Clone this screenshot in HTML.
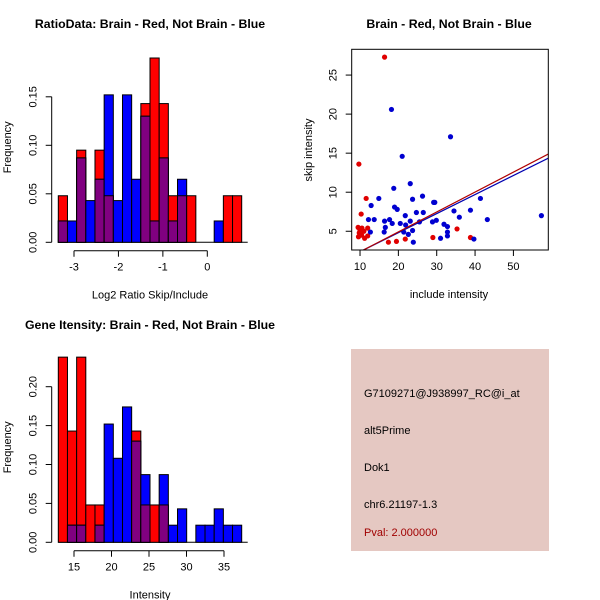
<!DOCTYPE html>
<html><head><meta charset="utf-8"><style>
body{margin:0;background:#fff;}
svg{display:block;font-family:"Liberation Sans",sans-serif;}
</style></head><body>
<svg id="root" width="600" height="600" viewBox="0 0 600 600">
<rect width="600" height="600" fill="#fff"/>
<g id="p1"></g>
<g id="p2"></g>
<g id="p3"></g>
<g id="p4">
<rect x="351" y="349" width="198" height="202" fill="#e5c8c2"/>
<text x="364" y="397" font-size="11" fill="#000">G7109271@J938997_RC@i_at</text>
<text x="364" y="434" font-size="11" fill="#000">alt5Prime</text>
<text x="364" y="471" font-size="11" fill="#000">Dok1</text>
<text x="364" y="508" font-size="11" fill="#000">chr6.21197-1.3</text>
<text x="364" y="536" font-size="11" fill="#a00000">Pval: 2.000000</text>
</g>
</svg>
<script>
const NS='http://www.w3.org/2000/svg';
// ---- data ----
const ratioRed=[0.048,0,0.095,0,0.095,0.048,0,0,0,0.143,0.190,0.143,0.048,0.048,0.048,0,0,0,0.048,0.048];
const ratioBlue=[0.022,0.022,0.087,0.043,0.065,0.152,0.043,0.152,0.065,0.130,0.022,0.087,0.022,0.065,0,0,0,0.022,0,0];
const ratioXTicks=[-3,-2,-1,0];
const ratioYTicks=[0,0.05,0.10,0.15];
const geneRed=[0.238,0.143,0.238,0.048,0.048,0,0,0,0.143,0.048,0.048,0.048,0,0,0,0,0,0,0,0];
const geneBlue=[0,0.022,0.022,0,0.022,0.152,0.108,0.174,0.130,0.087,0,0.087,0.022,0.043,0,0.022,0.022,0.043,0.022,0.022];
const geneXTicks=[15,20,25,30,35];
const geneYTicks=[0,0.05,0.10,0.15,0.20];
const redX=[16.4,9.7,10.3,11.6,9.5,10,10.5,11,12,9.6,10.4,11.2,12,9.8,17.4,19.5,21.8,29,35.3,38.8];
const redY=[27.3,13.6,7.2,9.2,5.5,5.1,5.4,5.0,5.4,4.3,4.5,4.1,4.4,4.8,3.6,3.7,4.0,4.2,5.3,4.2];
const blueX=[18.2,33.6,21.0,23.1,18.8,14.9,12.9,19.0,19.7,23.7,26.3,29.2,29.5,24.7,26.5,21.8,12.2,13.7,17.7,16.4,18.4,20.5,23.1,21.9,25.5,28.9,29.9,31.9,32.8,34.5,35.9,38.8,41.4,43.2,57.3,16.6,16.3,12.7,21.4,23.7,22.6,32.8,32.8,31.0,39.7,23.9];
const blueY=[20.6,17.1,14.6,11.1,10.5,9.2,8.3,8.1,7.8,9.1,9.5,8.7,8.7,7.4,7.4,7.0,6.5,6.5,6.5,6.3,6.0,6.0,6.3,5.8,6.2,6.2,6.4,5.9,5.6,7.6,6.8,7.7,9.2,6.5,7.0,5.5,4.9,4.9,4.9,5.1,4.6,4.9,4.4,4.1,4.0,3.6];
const scXTicks=[10,20,30,40,50];
const scYTicks=[5,10,15,20,25];
const redFit=[-0.18,0.255];
const blueFit=[-0.06,0.244];

function el(parent,tag,attrs,text){const e=document.createElementNS(NS,tag);for(const k in attrs)e.setAttribute(k,attrs[k]);if(text!==undefined)e.textContent=text;parent.appendChild(e);return e;}

function hist(g,title,xlab,red,blue,xt,yt,x0,x1,xT0,xT1,base,yPer,xAxY,titleY){
  const sx=v=>xT0+(v-xt[0])*(xT1-xT0)/(xt[xt.length-1]-xt[0]);
  const sy=v=>base-v*yPer;
  const n=red.length,w=(x1-x0)/n;
  const t=el(g,'text',{x:150,y:titleY,'font-size':12.3,'font-weight':'bold','text-anchor':'middle'},title);
  
  
  el(g,'line',{x1:x0,x2:x1+6,y1:base,y2:base,stroke:'#000'});
  for(let i=0;i<n;i++){
    const bx=x0+i*w;
    const r=red[i],b=blue[i],m=Math.min(r,b);
    if(r>0){const e=el(g,'rect',{x:bx,y:sy(r),width:w,height:base-sy(r),fill:'#ff0000',stroke:'#000','stroke-width':1});
      }
    if(b>0){const e=el(g,'rect',{x:bx,y:sy(b),width:w,height:base-sy(b),fill:'#0000ff',stroke:'#000','stroke-width':1});
      }
    if(m>0){const e=el(g,'rect',{x:bx,y:sy(m),width:w,height:base-sy(m),fill:'#800080',stroke:'#000','stroke-width':1});
      }
  }
  const ax=51.7;
  el(g,'line',{x1:ax,x2:ax,y1:sy(yt[0]),y2:sy(yt[yt.length-1]),stroke:'#000'});
  yt.forEach(v=>{el(g,'line',{x1:ax-6,x2:ax,y1:sy(v),y2:sy(v),stroke:'#000'});
    const lx=ax-15;
    const l=el(g,'text',{x:lx,y:sy(v),'font-size':11,'text-anchor':'middle',transform:`rotate(-90 ${lx} ${sy(v)})`},v.toFixed(2));
    });
  el(g,'line',{x1:sx(xt[0]),x2:sx(xt[xt.length-1]),y1:xAxY,y2:xAxY,stroke:'#000'});
  xt.forEach(v=>{el(g,'line',{x1:sx(v),x2:sx(v),y1:xAxY,y2:xAxY+6,stroke:'#000'});
    const l=el(g,'text',{x:sx(v),y:xAxY+20,'font-size':11,'text-anchor':'middle'},String(v));
    });
  const yl=el(g,'text',{x:11,y:base-95,'font-size':11,'text-anchor':'middle',transform:`rotate(-90 11 ${base-95})`},'Frequency');
  
  const xl=el(g,'text',{x:150,y:xAxY+48,'font-size':11,'text-anchor':'middle'},xlab);
  
}
hist(document.getElementById('p1'),'RatioData: Brain - Red, Not Brain - Blue','Log2 Ratio Skip/Include',ratioRed,ratioBlue,ratioXTicks,ratioYTicks,58.3,241.7,74,207.3,242.3,970,250.7,28);
hist(document.getElementById('p3'),'Gene Itensity: Brain - Red, Not Brain - Blue','Intensity',geneRed,geneBlue,geneXTicks,geneYTicks,58.3,241.7,74,224,542.3,778,550.7,329);

(function(){
  const g=document.getElementById('p2');
  const L=351.7,R=548.3,T=49.3,B=250;
  const xmin=7.83,xmax=59.1,ymin=2.6,ymax=28.3;
  const sx=v=>L+(v-xmin)/(xmax-xmin)*(R-L);
  const sy=v=>B-(v-ymin)/(ymax-ymin)*(B-T);
  const t=el(g,'text',{x:449,y:28,'font-size':12.3,'font-weight':'bold','text-anchor':'middle'},'Brain - Red, Not Brain - Blue');
  
  const defs=el(g,'clipPath',{id:'clip'});el(defs,'rect',{x:L,y:T,width:R-L,height:B-T});
  const pts=el(g,'g',{'clip-path':'url(#clip)'});
  redX.forEach((x,i)=>{const c=el(pts,'circle',{cx:sx(x),cy:sy(redY[i]),r:2.6,fill:'#e00000'});
    });
  blueX.forEach((x,i)=>{const c=el(pts,'circle',{cx:sx(x),cy:sy(blueY[i]),r:2.6,fill:'#0000d0'});
    });
  const xa=10.5,xb=xmax;
  const lb=el(pts,'line',{x1:sx(xa),y1:sy(blueFit[0]+blueFit[1]*xa),x2:sx(xb),y2:sy(blueFit[0]+blueFit[1]*xb),stroke:'#0000b0','stroke-width':1.2});
  
  const lr=el(pts,'line',{x1:sx(xa),y1:sy(redFit[0]+redFit[1]*xa),x2:sx(xb),y2:sy(redFit[0]+redFit[1]*xb),stroke:'#b00000','stroke-width':1.2});
  
  el(g,'rect',{x:L,y:T,width:R-L,height:B-T,fill:'none',stroke:'#000'});
  scXTicks.forEach(v=>{el(g,'line',{x1:sx(v),x2:sx(v),y1:B,y2:B+6,stroke:'#000'});
    const l=el(g,'text',{x:sx(v),y:B+20,'font-size':11,'text-anchor':'middle'},String(v));
    });
  scYTicks.forEach(v=>{el(g,'line',{x1:L-6,x2:L,y1:sy(v),y2:sy(v),stroke:'#000'});
    const lx=L-15;
    const l=el(g,'text',{x:lx,y:sy(v),'font-size':11,'text-anchor':'middle',transform:`rotate(-90 ${lx} ${sy(v)})`},String(v));
    });
  const yl=el(g,'text',{x:312,y:150,'font-size':11,'text-anchor':'middle',transform:'rotate(-90 312 150)'},'skip intensity');
  
  const xl=el(g,'text',{x:449,y:298,'font-size':11,'text-anchor':'middle'},'include intensity');
  
})();
</script>
</body></html>
